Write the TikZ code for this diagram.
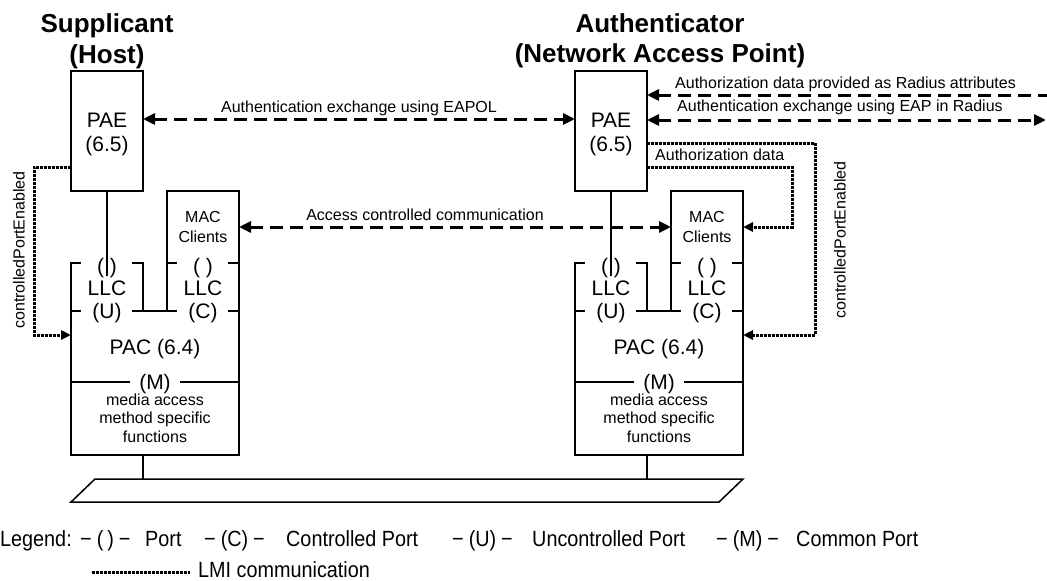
\documentclass[tikz,border=0pt]{standalone}
\usepackage{fontspec}
\setmainfont{Liberation Sans}
\newfontfamily\legendfont[FakeStretch=0.9]{Liberation Sans}
\usetikzlibrary{arrows.meta}
\begin{document}
\begin{tikzpicture}[x=1pt,y=-1pt,
  ln/.style={line width=1.5pt},
  big/.style={font=\fontsize{21}{23}\selectfont, inner sep=0pt, anchor=base},
  sm/.style={font=\fontsize{16}{18}\selectfont, inner sep=0pt, anchor=base},
  ttl/.style={font=\fontsize{26}{30}\selectfont\bfseries, inner sep=0pt, anchor=base},
  leg/.style={font=\legendfont\fontsize{22}{24}\selectfont, inner sep=0pt, anchor=base west},
  dsh/.style={line width=3pt, dash pattern=on 13pt off 7pt, >={Triangle[length=12pt,width=11pt]}},
  lmi/.style={line width=3pt, dash pattern=on 3pt off 1pt, >={Triangle[length=10pt,width=9pt]}},
  blank/.style={inner sep=0pt, outer sep=0pt}
]
\useasboundingbox (0,0) rectangle (1047,581);

% titles
\node[ttl] (t1) at (107,32) {Supplicant};
\node[ttl] (t2) at (107,63) {(Host)};
\node[ttl] (t3) at (660,32) {Authenticator};
\node[ttl] (t4) at (660,62) {(Network Access Point)};

\foreach \dx/\n in {0/L,504/R}{
\begin{scope}[xshift=\dx]
  \node[draw, ln, blank, minimum width=72pt, minimum height=120pt] (pae\n) at (107,131) {};
  \node[big] (paet\n) at (107,127) {PAE};
  \node[big] (paen\n) at (107,151) {(6.5)};
  \node[blank, minimum width=72pt, minimum height=72pt] (mac\n) at (203,227) {};
  \node[blank, minimum width=168pt, minimum height=192pt] (pac\n) at (155,359) {};
  \draw[ln] (pae\n.south) -- (107,276);
  \draw[ln] (167,311) -- (mac\n.north west) -- (mac\n.north east) -- (pac\n.south east) -- (pac\n.south west) -- (71,263) -- (81,263);
  \draw[ln] (167,263) -- (177,263);
  \draw[ln] (132,263) -- (143,263) -- (143,311);
  \draw[ln] (228,263) -- (239,263);
  \draw[ln] (71,311) -- (81,311);
  \draw[ln] (132,311) -- (177,311);
  \draw[ln] (228,311) -- (239,311);
  \draw[ln] (71,382) -- (130,382);
  \draw[ln] (180,382) -- (239,382);
  \draw[ln] (pac\n.south -| 143,0) -- (143,479);
  \node[sm] (mt\n) at (203,222) {MAC};
  \node[sm] (ct\n) at (203,242) {Clients};
  \node[big] (p1\n) at (107,273) {(\ )};
  \node[big] (l1\n) at (107,295) {LLC};
  \node[big] (u\n) at (107,318) {(U)};
  \node[big] (p2\n) at (203,273) {(\ )};
  \node[big] (l2\n) at (203,295) {LLC};
  \node[big] (c\n) at (203,318) {(C)};
  \node[big] (pact\n) at (155,354) {PAC (6.4)};
  \node[big] (m\n) at (155,389) {(M)};
  \node[sm] (ma\n) at (155,405) {media access};
  \node[sm] (ms\n) at (155,423) {method specific};
  \node[sm] (mf\n) at (155,442) {functions};
\end{scope}
}

% bus
\draw[ln] (95,479) -- (743,479) -- (719,502) -- (71,502) -- cycle;

% dashed exchanges
\draw[dsh,<->] (paeL.east |- 0,119) -- (paeR.west |- 0,119);
\node[sm] (eapol) at (359,112) {Authentication exchange using EAPOL};
\draw[dsh,<->] (macL.east) -- (macR.west);
\node[sm] (acc) at (425,220) {Access controlled communication};
\coordinate (rad1) at (1047,95);
\coordinate (rad2) at (1046,120);
\draw[dsh,<-] (paeR.east |- 0,95) -- (rad1);
\draw[dsh,<->] (paeR.east |- 0,120) -- (rad2);
\node[sm, anchor=base west] (r1) at (675,88) {Authorization data provided as Radius attributes};
\node[sm, anchor=base west] (r2) at (677,111) {Authentication exchange using EAP in Radius};

% LMI
\coordinate (cl) at (34,335);
\draw[lmi,->] (paeL.west |- 0,167) -| (cl) -- (pacL.west |- cl);
\coordinate (cr) at (815,335);
\draw[lmi,->] (paeR.east |- 0,143) -| (cr) -- (pacR.east |- cr);
\coordinate (cm) at (792,227);
\draw[lmi,->] (paeR.east |- 0,167) -| (cm) -- (macR.east);
\node[sm, anchor=base west] (ad) at (655,160) {Authorization data};
\node[sm, anchor=center, rotate=90] (cpe1) at (19,250) {controlledPortEnabled};
\node[sm, anchor=center, rotate=90] (cpe2) at (840,240) {controlledPortEnabled};

% legend
\node[leg] (lg) at (0,546) {Legend:};
\node[leg] (lg1) at (80,546) {−\kern5pt(\kern4pt)\kern5pt−};
\node[leg] (lg2) at (145,546) {Port};
\node[leg] (lg3) at (204,546) {−\kern5pt(C)\kern5pt−};
\node[leg] (lg4) at (286,546) {Controlled Port};
\node[leg] (lg5) at (452,546) {−\kern5pt(U)\kern5pt−};
\node[leg] (lg6) at (532,546) {Uncontrolled Port};
\node[leg] (lg7) at (716,546) {−\kern5pt(M)\kern5pt−};
\node[leg] (lg8) at (796,546) {Common Port};
\coordinate (lmia) at (92,572);
\coordinate (lmib) at (190,572);
\draw[lmi] (lmia) -- (lmib);
\node[leg] (lmit) at (198,577) {LMI communication};
\end{tikzpicture}
\end{document}
